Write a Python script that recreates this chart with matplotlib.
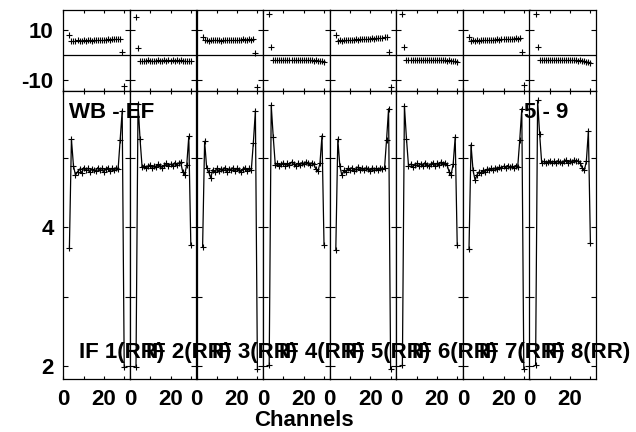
import matplotlib.pyplot as plt

plt.rcParams['font.family'] = ['Liberation Sans', 'DejaVu Sans']
plt.rcParams['font.weight'] = 'bold'
plt.rcParams['font.size'] = 16

# channels plotted in every IF panel
channels = list(range(3, 31))
if_labels = ['IF 1(RR)', 'IF 2(RR)', 'IF 3(RR)', 'IF 4(RR)',
             'IF 5(RR)', 'IF 6(RR)', 'IF 7(RR)', 'IF 8(RR)']

# amplitude per IF
amp_if1 = [3.70, 5.27, 4.89, 4.75, 4.80, 4.84, 4.78, 4.86, 4.82, 4.85, 4.80, 4.84, 4.83, 4.81,
           4.86, 4.82, 4.85, 4.80, 4.84, 4.86, 4.81, 4.85, 4.82, 4.86, 4.84, 5.26, 5.68, 1.98]
amp_if2 = [1.98, 5.78, 5.27, 4.87, 4.89, 4.85, 4.88, 4.90, 4.86, 4.89, 4.87, 4.91, 4.88, 4.86,
           4.90, 4.92, 4.88, 4.91, 4.89, 4.93, 4.90, 4.92, 4.94, 4.80, 4.76, 4.90, 5.31, 3.75]
amp_if3 = [3.71, 5.24, 4.86, 4.80, 4.71, 4.83, 4.79, 4.85, 4.81, 4.84, 4.82, 4.86, 4.80, 4.84,
           4.83, 4.86, 4.81, 4.85, 4.82, 4.80, 4.84, 4.86, 4.81, 4.85, 4.83, 5.22, 5.68, 1.96]
amp_if4 = [2.01, 5.76, 5.30, 4.90, 4.92, 4.88, 4.91, 4.93, 4.89, 4.92, 4.90, 4.94, 4.91, 4.89,
           4.92, 4.90, 4.93, 4.91, 4.94, 4.92, 4.90, 4.93, 4.91, 4.84, 4.81, 4.92, 5.32, 3.75]
amp_if5 = [3.67, 5.27, 4.88, 4.75, 4.82, 4.79, 4.85, 4.83, 4.86, 4.81, 4.84, 4.87, 4.82, 4.85,
           4.83, 4.86, 4.84, 4.81, 4.86, 4.83, 4.85, 4.82, 4.86, 4.84, 4.85, 5.26, 5.71, 1.96]
amp_if6 = [2.01, 5.75, 5.28, 4.89, 4.91, 4.87, 4.90, 4.92, 4.88, 4.91, 4.89, 4.93, 4.90, 4.88,
           4.91, 4.93, 4.89, 4.92, 4.90, 4.94, 4.91, 4.93, 4.90, 4.80, 4.76, 4.91, 5.30, 3.75]
amp_if7 = [3.68, 5.19, 4.82, 4.68, 4.76, 4.80, 4.78, 4.82, 4.80, 4.84, 4.82, 4.85, 4.83, 4.86,
           4.84, 4.87, 4.85, 4.88, 4.86, 4.89, 4.87, 4.88, 4.86, 4.89, 4.87, 5.26, 5.71, 1.96]
amp_if8 = [2.01, 5.83, 5.34, 4.93, 4.95, 4.92, 4.94, 4.96, 4.92, 4.95, 4.93, 4.96, 4.94, 4.92,
           4.95, 4.97, 4.93, 4.96, 4.94, 4.97, 4.95, 4.96, 4.93, 4.85, 4.82, 4.95, 5.39, 3.77]

# phase per IF (degrees)
ph_if1 = [8.0, 5.6, 5.7, 5.6, 5.8, 5.7, 5.6, 5.8, 5.7, 5.9, 5.8, 5.7, 5.9, 5.8,
          6.0, 5.9, 6.0, 6.1, 6.0, 6.2, 6.1, 6.3, 6.2, 6.4, 6.3, 6.4, 1.1, -12.4]
ph_if2 = [15.1, 2.9, -2.4, -2.5, -2.3, -2.4, -2.2, -2.4, -2.3, -2.5, -2.3, -2.2, -2.4, -2.3,
          -2.1, -2.3, -2.2, -2.4, -2.2, -2.3, -2.1, -2.3, -2.2, -2.4, -2.3, -2.5, -2.6, -2.6]
ph_if3 = [7.3, 5.8, 5.9, 5.7, 5.9, 5.8, 6.0, 5.8, 5.9, 5.7, 5.9, 6.0, 5.8, 5.9,
          6.1, 5.9, 6.0, 5.9, 6.1, 6.0, 6.2, 6.0, 6.1, 6.2, 6.1, 6.2, 0.7, -12.9]
ph_if4 = [16.4, 3.1, -2.0, -2.2, -2.1, -1.9, -2.1, -2.0, -2.2, -2.0, -2.1, -1.9, -2.0, -2.2,
          -2.1, -2.0, -1.9, -2.1, -2.0, -2.2, -2.0, -2.1, -2.3, -2.2, -2.4, -2.3, -2.5, -2.9]
ph_if5 = [8.0, 5.7, 5.8, 5.7, 5.9, 5.8, 6.0, 5.9, 6.1, 6.0, 6.2, 6.1, 6.3, 6.2,
          6.4, 6.3, 6.5, 6.4, 6.6, 6.5, 6.7, 6.8, 6.9, 6.8, 7.0, 7.1, 1.1, -12.7]
ph_if6 = [16.3, 3.1, -2.0, -2.1, -1.9, -2.0, -2.2, -2.0, -1.9, -2.1, -2.0, -2.2, -2.1, -1.9,
          -2.0, -2.1, -2.0, -2.2, -2.1, -2.0, -2.2, -2.1, -2.3, -2.2, -2.4, -2.5, -2.6, -2.9]
ph_if7 = [7.1, 5.7, 5.8, 5.6, 5.8, 5.7, 5.9, 5.8, 5.9, 6.0, 5.9, 6.1, 6.0, 6.1,
          6.2, 6.1, 6.3, 6.2, 6.3, 6.4, 6.3, 6.5, 6.4, 6.6, 6.5, 6.7, 1.1, -12.0]
ph_if8 = [16.4, 3.1, -2.0, -2.1, -1.9, -2.0, -2.1, -1.9, -2.0, -2.2, -2.0, -2.1, -1.9, -2.0,
          -2.1, -2.0, -2.2, -2.0, -2.1, -2.2, -2.1, -2.3, -2.2, -2.4, -2.5, -2.7, -2.9, -3.3]

amps = [amp_if1, amp_if2, amp_if3, amp_if4, amp_if5, amp_if6, amp_if7, amp_if8]
phases = [ph_if1, ph_if2, ph_if3, ph_if4, ph_if5, ph_if6, ph_if7, ph_if8]

W, H = 636, 432
fig = plt.figure(figsize=(W / 100, H / 100), dpi=100)

x0 = 63.3   # left edge of first panel (px)
pw = 66.6   # panel width (px)

for i in range(8):
    left = (x0 + i * pw) / W
    axp = fig.add_axes([left, 1 - 90.7 / H, pw / W, (90.7 - 10) / H])
    axa = fig.add_axes([left, 1 - 379 / H, pw / W, (379 - 90.7) / H])

    # phase: markers only, plus zero line
    axp.axhline(0, color='k', lw=0.9)
    axp.plot(channels, phases[i], '+', color='k', ms=5, mew=0.8)
    axp.set_ylim(-14.3, 18)
    axp.set_yticks([-10, 10])

    # amplitude: connected markers
    axa.plot(channels, amps[i], '-+', color='k', lw=0.9, ms=5, mew=0.8)
    axa.set_ylim(1.81, 5.97)
    axa.set_yticks([2, 3, 4, 5])

    for ax in (axp, axa):
        ax.set_xlim(0, 32.8)
        ax.set_xticks([0, 10, 20, 30])
        ax.tick_params(axis='x', direction='in', top=True, bottom=True, length=2.5, width=0.8, pad=7)
        ax.tick_params(axis='y', direction='in', left=True, right=True, length=3.6, width=0.8, pad=7)
        for s in ax.spines.values():
            s.set_linewidth(0.9)

    axp.set_xticklabels([])
    axa.set_xticklabels(['0', '', '20', ''])
    if i == 0:
        axp.set_yticklabels(['-10', '10'])
        axa.set_yticklabels(['2', '', '4', ''])
    else:
        axp.set_yticklabels([])
        axa.set_yticklabels([])

    # IF labels overlap each other, as in the original plot
    fig.text((79 + i * pw) / W, 1 - 358.3 / H, if_labels[i], va='baseline', zorder=10)

fig.text(69.3 / W, 1 - 118.3 / H, 'WB - EF', va='baseline', zorder=10)
fig.text(568.3 / W, 1 - 118.3 / H, '5 - 9', ha='right', va='baseline', zorder=10)
fig.text(303.7 / W, 1 - 426.5 / H, 'Channels', ha='center', va='baseline')

fig.savefig('out.png', dpi=100)
